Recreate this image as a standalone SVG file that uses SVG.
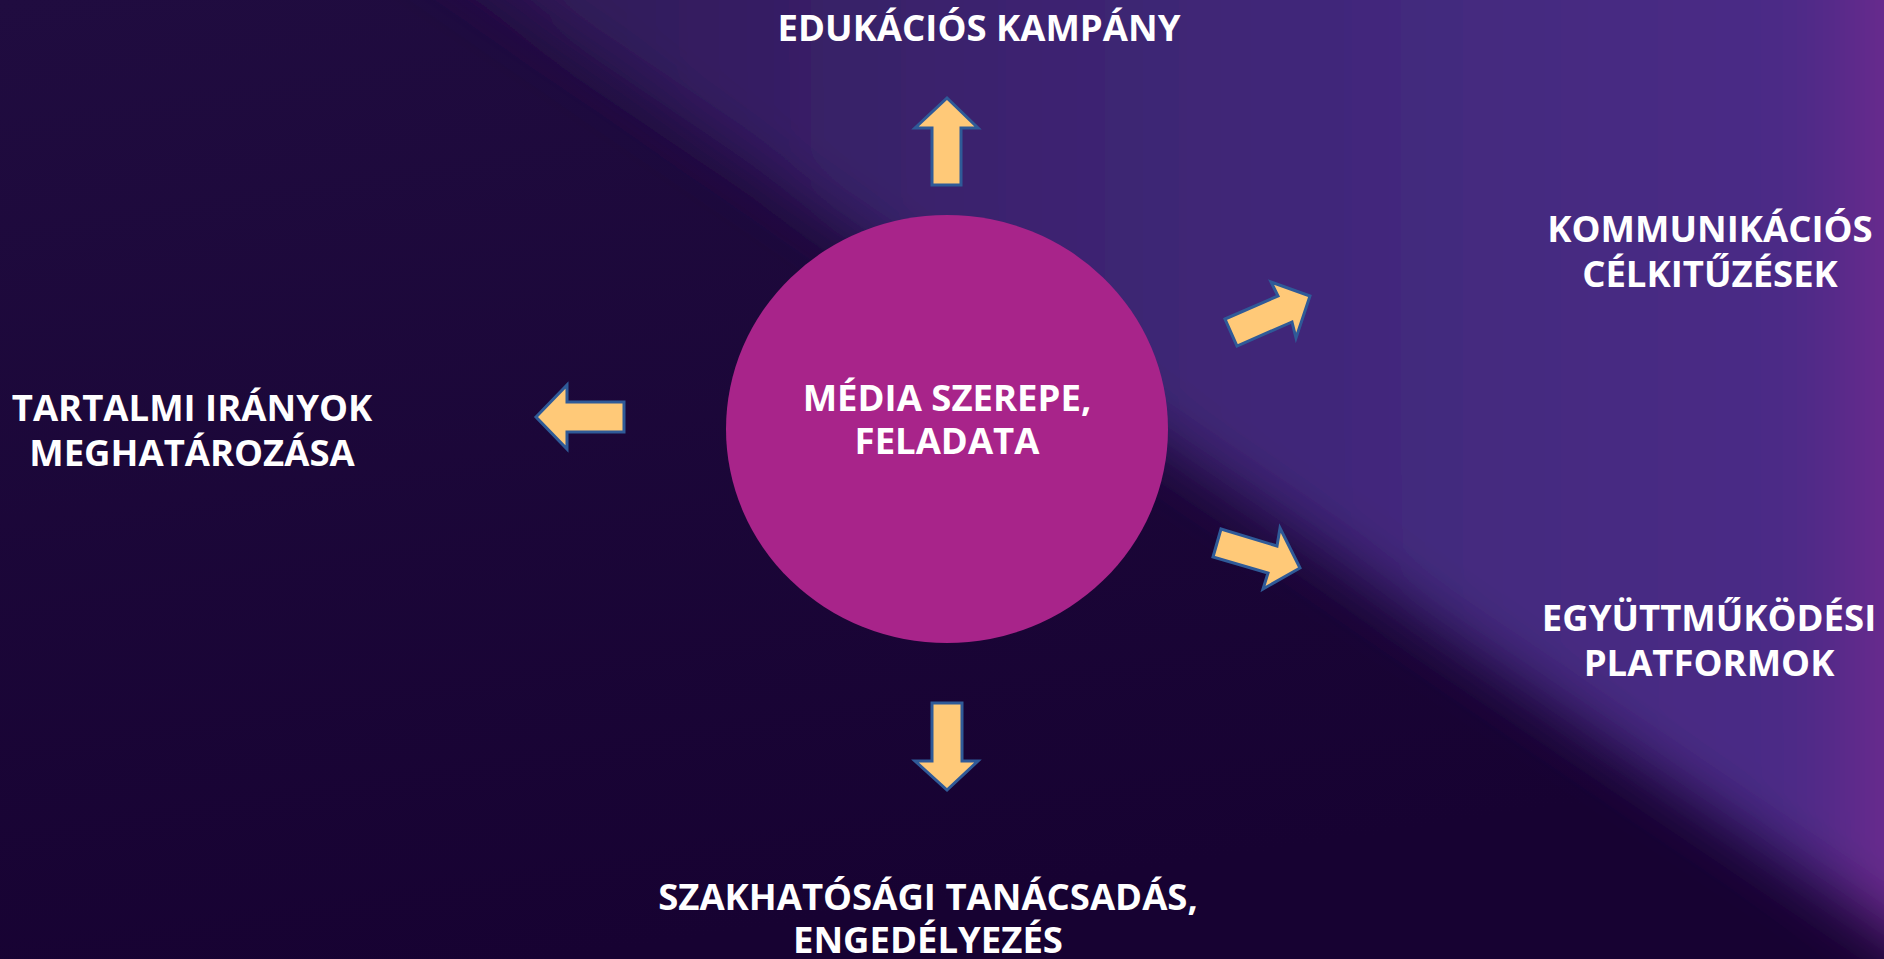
<svg xmlns="http://www.w3.org/2000/svg" width="1884" height="959" viewBox="0 0 1884 959">
<defs>
<linearGradient id="bgDark" x1="0" y1="0" x2="0.3" y2="1">
<stop offset="0" stop-color="#200c40"/>
<stop offset="1" stop-color="#170232"/>
</linearGradient>
<linearGradient id="bgLight" gradientUnits="userSpaceOnUse" x1="400" y1="0" x2="1884" y2="0">
<stop offset="0" stop-color="#2c1650"/>
<stop offset="0.35" stop-color="#3a226c"/>
<stop offset="0.7" stop-color="#43297e"/>
<stop offset="0.93" stop-color="#4a2b86"/>
<stop offset="0.975" stop-color="#572b8a"/>
<stop offset="1" stop-color="#6c2b8e"/>
</linearGradient>
<filter id="soft" x="-20%" y="-20%" width="140%" height="140%">
<feGaussianBlur stdDeviation="30"/>
</filter>
<style>
.lbl{font-family:"Open Sans","Liberation Sans",sans-serif;font-weight:700;font-size:36.5px;fill:#ffffff;text-anchor:middle}
.arr{fill:#FFC978;stroke:#2F5A98;stroke-width:3;stroke-linejoin:miter}
</style>
</defs>
<g id="background">
<rect x="0" y="0" width="1884" height="959" fill="url(#bgDark)"/>
<polygon points="360,-100 2050,-100 2050,1040" fill="url(#bgLight)" filter="url(#soft)"/>
</g>
<g id="connectors">
<polygon class="arr" points="947,98 978,128 961,128 961,185 932,185 932,128 915,128"/>
<polygon class="arr" points="932,703 962,703 962,761 978,761 947,790 915,761 932,761"/>
<polygon class="arr" points="536,417 567,385 567,402 624,402 624,432 567,432 567,449"/>
<polygon class="arr" points="1225,319 1278,296 1271,282 1310,296 1296,338 1292,322 1237,346"/>
<polygon class="arr" points="1221,529 1277,546 1280,528 1300,568 1263,589 1268,573 1213,557"/>
</g>
<g id="center">
<ellipse cx="947" cy="429" rx="221" ry="214" fill="#A8248A"/>
<text class="lbl" x="947" y="411">MÉDIA SZEREPE,</text>
<text class="lbl" x="947" y="454">FELADATA</text>
</g>
<g id="edukacios">
<text class="lbl" x="979" y="41">EDUKÁCIÓS KAMPÁNY</text>
</g>
<g id="kommunikacios">
<text class="lbl" x="1710" y="242">KOMMUNIKÁCIÓS</text>
<text class="lbl" x="1710" y="287">CÉLKITŰZÉSEK</text>
</g>
<g id="tartalmi">
<text class="lbl" x="192" y="421">TARTALMI IRÁNYOK</text>
<text class="lbl" x="192" y="466">MEGHATÁROZÁSA</text>
</g>
<g id="egyuttmukodesi">
<text class="lbl" x="1709" y="631">EGYÜTTMŰKÖDÉSI</text>
<text class="lbl" x="1709" y="676">PLATFORMOK</text>
</g>
<g id="szakhatosagi">
<text class="lbl" x="928" y="910">SZAKHATÓSÁGI TANÁCSADÁS,</text>
<text class="lbl" x="928" y="953">ENGEDÉLYEZÉS</text>
</g>
</svg>
